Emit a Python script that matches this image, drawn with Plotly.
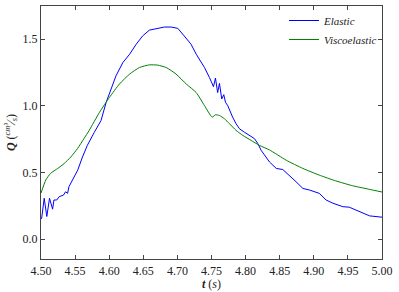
import plotly.graph_objects as go

# Elastic series (t, Q)
t_elastic = [4.500, 4.501, 4.5047, 4.5085, 4.5125, 4.517, 4.519, 4.523, 4.5267, 4.533, 4.536, 4.539,
             4.541, 4.545, 4.5487, 4.5538, 4.5608, 4.568, 4.578, 4.588, 4.5956, 4.603, 4.610, 4.620,
             4.630, 4.6396, 4.649, 4.659, 4.669, 4.681, 4.691, 4.7006, 4.710, 4.720, 4.7276, 4.7397,
             4.747, 4.7529, 4.7558, 4.759, 4.7617, 4.765, 4.768, 4.7705, 4.774, 4.7774, 4.781, 4.786,
             4.791, 4.798, 4.8057, 4.813, 4.818, 4.8228, 4.835, 4.845, 4.8545, 4.864, 4.874, 4.884,
             4.8937, 4.908, 4.918, 4.928, 4.9425, 4.952, 4.967, 4.9817, 5.000]
q_elastic = [0.15, 0.157, 0.306, 0.169, 0.306, 0.224, 0.293, 0.293, 0.318, 0.33, 0.355, 0.343,
             0.393, 0.43, 0.467, 0.517, 0.616, 0.704, 0.80, 0.89, 1.027, 1.127, 1.226, 1.325,
             1.388, 1.463, 1.525, 1.569, 1.582, 1.592, 1.592, 1.582, 1.525, 1.463, 1.388, 1.288,
             1.213, 1.144, 1.209, 1.10, 1.169, 1.052, 1.084, 1.027, 1.0, 0.952, 0.915, 0.866,
             0.828, 0.803, 0.778, 0.754, 0.716, 0.666, 0.579, 0.53, 0.522, 0.48, 0.43, 0.38,
             0.368, 0.343, 0.293, 0.269, 0.243, 0.239, 0.206, 0.174, 0.164]

# Viscoelastic series (t, Q)
t_visco = [4.500, 4.507, 4.514, 4.5245, 4.534, 4.5437, 4.5535, 4.563, 4.5707, 4.5858, 4.6004,
           4.615, 4.630, 4.6444, 4.659, 4.671, 4.6836, 4.698, 4.713, 4.7276, 4.7397, 4.751,
           4.7558, 4.7617, 4.769, 4.7764, 4.786, 4.796, 4.808, 4.820, 4.835, 4.8595, 4.884,
           4.908, 4.932, 4.957, 4.9817, 5.000]
q_visco = [0.345, 0.443, 0.493, 0.53, 0.567, 0.616, 0.679, 0.754, 0.816, 0.952, 1.064,
           1.164, 1.239, 1.288, 1.308, 1.306, 1.288, 1.239, 1.164, 1.10, 1.002, 0.915,
           0.933, 0.928, 0.903, 0.866, 0.816, 0.778, 0.741, 0.704, 0.669, 0.592, 0.53,
           0.48, 0.437, 0.40, 0.373, 0.353]

x_ticks = [4.50, 4.55, 4.60, 4.65, 4.70, 4.75, 4.80, 4.85, 4.90, 4.95, 5.00]
y_ticks = [0.0, 0.5, 1.0, 1.5]

serif = "Liberation Serif, DejaVu Serif, serif"

fig = go.Figure()
fig.add_trace(go.Scatter(x=t_elastic, y=q_elastic, mode="lines", name="<i>Elastic</i>",
                         line=dict(color="#0000ff", width=1)))
fig.add_trace(go.Scatter(x=t_visco, y=q_visco, mode="lines", name="<i>Viscoelastic</i>",
                         line=dict(color="#008000", width=1, shape="spline", smoothing=0.5)))

axis_common = dict(showgrid=False, zeroline=False, showline=True, linecolor="#444", linewidth=1.2,
                   mirror="ticks", ticks="inside", ticklen=4, tickcolor="#444",
                   tickfont=dict(family=serif, size=12, color="#222"))

fig.update_xaxes(range=[4.5, 5.0], tickvals=x_ticks, ticktext=[f"{v:.2f}" for v in x_ticks],
                 title=dict(text="<b><i>t</i></b> (<i>s</i>)", font=dict(family=serif, size=12, color="#222"),
                            standoff=1),
                 **axis_common)
fig.update_yaxes(range=[-0.15, 1.75], tickvals=y_ticks, ticktext=[f"{v:.1f}" for v in y_ticks],
                 title=dict(text="<b><i>Q</i></b> (<sup><i>cm³</i></sup>⁄<sub><i>s</i></sub>)",
                            font=dict(family=serif, size=12, color="#222"), standoff=4),
                 **axis_common)

fig.update_layout(
    width=399, height=292,
    margin=dict(l=41, r=17, t=5, b=32),
    paper_bgcolor="white", plot_bgcolor="white",
    legend=dict(x=1, y=1, xanchor="right", yanchor="top", bgcolor="rgba(255,255,255,0)",
                font=dict(family=serif, size=11, color="#222"), tracegroupgap=0),
    showlegend=True,
)

fig.write_html("out.html", config={"displayModeBar": False},
               post_script="document.body.style.margin='0';document.body.style.padding='0';")
